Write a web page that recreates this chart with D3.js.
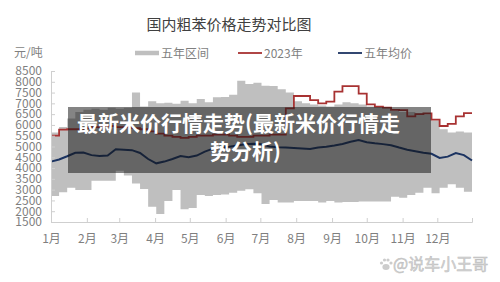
<!DOCTYPE html>
<html>
<head>
<meta charset="utf-8">
<script src="https://cdn.jsdelivr.net/npm/d3@7"></script>
<style>
  body { margin: 0; background: #fff; }
  text { font-family: "Noto Sans CJK SC", "Noto Sans", sans-serif; }
</style>
</head>
<body>
<div id="chart"></div>
<script>
var months = ["1月","2月","3月","4月","5月","6月","7月","8月","9月","10月","11月","12月"];
var monthStart = [0, 31, 59, 90, 120, 151, 181, 212, 243, 273, 304, 334, 364];
var yTicks = [1500, 2000, 2500, 3000, 3500, 4000, 4500, 5000, 5500, 6000, 6500, 7000, 7500, 8000, 8500];

// weekly values, week 0 .. week 52
var rangeHigh = [5650, 5900, 6300, 6600, 6700, 6750, 6700, 6800, 6750, 6800,
                 7500, 6850, 7100, 7000, 7030, 6980, 7120, 7000, 7200, 7050,
                 7280, 7300, 7400, 8050, 7900, 7950, 7820, 7800, 7650, 7500,
                 7100, 7000, 6950, 6900, 6850, 6950, 7050, 7000, 6950, 6850,
                 6850, 6800, 6650, 6600, 6600, 6550, 6500, 6200, 5800, 5650,
                 5700, 5650, 5650];
var rangeLow = [2700, 2880, 3090, 2980, 2980, 3410, 3410, 3410, 3880, 3650,
                3290, 3030, 2210, 1870, 2470, 2980, 2090, 2150, 2750, 2700,
                2750, 2780, 2860, 2950, 3020, 2830, 2330, 2520, 2400, 2400,
                2470, 2470, 2470, 2400, 2470, 2400, 2430, 2430, 2450, 2450,
                2450, 2450, 2670, 2620, 2750, 2860, 3090, 2830, 3090, 3250,
                3090, 2900, 2900];
var price2023 = [5500, 5780, 5800, 5800, 5850, 5900, 5950, 5950, 5900, 5900,
                 5850, 5800, 5700, 5600, 5500, 5450, 5400, 5450, 5500, 5500,
                 5550, 5550, 5500, 5450, 5450, 5500, 5500, 5550, 5550, 6770,
                 7340, 7340, 7150, 7000, 7080, 7540, 7800, 7800, 7450, 6950,
                 6850, 6800, 6700, 6690, 6400, 6500, 6540, 6250, 5950, 6050,
                 6400, 6550, 6550];
var avg5y = [4300, 4400, 4550, 4710, 4720, 4600, 4560, 4580, 4870, 4850,
             4830, 4700, 4420, 4220, 4300, 4420, 4560, 4500, 4580, 4760,
             4900, 4950, 4990, 5050, 5100, 5130, 5100, 5000, 4970, 4950,
             4930, 4910, 4880, 4950, 4990, 5050, 5120, 5220, 5300, 5200,
             5150, 5110, 5060, 4950, 4850, 4780, 4710, 4660, 4470, 4530,
             4700, 4600, 4350];

var width = 500,
    height = 282;

var svg = d3.select("#chart")
            .append("svg")
            .attr("width", width)
            .attr("height", height)

var x = d3.scaleLinear().domain([0, 364]).range([51, 472])
var y = d3.scaleLinear().domain([1500, 8500]).range([222, 71])

var weeks = avg5y.map(function(d, i) { return i * 7 })

// five year range
var area = d3.area()
    .curve(d3.curveStepAfter)
    .x(function(d, i) { return x(weeks[i]) })
    .y0(function(d, i) { return y(rangeLow[i]) })
    .y1(function(d) { return y(d) })

svg.append("path")
   .datum(rangeHigh)
   .attr("d", area)
   .attr("fill", "#bfbfbf")

var stepLine = d3.line()
    .curve(d3.curveStepAfter)
    .x(function(d, i) { return x(weeks[i]) })
    .y(function(d) { return y(d) })

var line = d3.line()
    .x(function(d, i) { return x(weeks[i]) })
    .y(function(d) { return y(d) })

svg.append("path")
   .datum(price2023)
   .attr("d", stepLine)
   .attr("fill", "none")
   .attr("stroke", "#a83232")
   .attr("stroke-width", 1.8)

svg.append("path")
   .datum(avg5y)
   .attr("d", line)
   .attr("fill", "none")
   .attr("stroke", "#1b3361")
   .attr("stroke-width", 2)

// axes
svg.append("g")
   .attr("transform", "translate(51,0)")
   .call(d3.axisLeft(y).tickValues(yTicks).tickSize(-4).tickPadding(9).tickFormat(d3.format("d")))

svg.append("g")
   .attr("transform", "translate(0,222)")
   .call(d3.axisBottom(x).tickValues(monthStart).tickSize(-4).tickPadding(12)
         .tickFormat(function(d, i) { return months[i] || "" }))

svg.selectAll(".domain, .tick line").attr("stroke", "#cfcfcf")
svg.selectAll(".tick text")
   .attr("fill", "#7f7f7f")
   .style("font-size", "12px")
   .style("font-family", "'Noto Sans CJK SC', sans-serif")

// title, unit and legend
svg.append("text")
   .attr("x", 229).attr("y", 30)
   .attr("text-anchor", "middle")
   .attr("fill", "#404040")
   .style("font-size", "15px")
   .text("国内粗苯价格走势对比图")

svg.append("text")
   .attr("x", 14).attr("y", 57)
   .attr("fill", "#7f7f7f")
   .style("font-size", "12px")
   .text("元/吨")

var legend = [
  {name: "五年区间", x: 135, color: "#bfbfbf", w: 4.5},
  {name: "2023年", x: 238, color: "#a83232", w: 1.8},
  {name: "五年均价", x: 338, color: "#1b3361", w: 1.8}
]

var lg = svg.selectAll(".lg")
   .data(legend)
   .enter().append("g")
   .attr("class", "lg")

lg.append("line")
  .attr("x1", function(d) { return d.x })
  .attr("x2", function(d) { return d.x + 24 })
  .attr("y1", 53).attr("y2", 53)
  .attr("stroke", function(d) { return d.color })
  .attr("stroke-width", function(d) { return d.w })

lg.append("text")
  .attr("x", function(d) { return d.x + 26 })
  .attr("y", 57.5)
  .attr("fill", "#7f7f7f")
  .style("font-size", "12px")
  .text(function(d) { return d.name })

// overlay caption
svg.append("rect")
   .attr("x", 68).attr("y", 107)
   .attr("width", 363).attr("height", 66)
   .attr("fill", "rgba(20,20,20,0.52)")

svg.append("text")
   .attr("x", 77).attr("y", 131)
   .attr("fill", "#fff")
   .style("font-size", "21px")
   .style("font-weight", "bold")
   .text("最新米价行情走势(最新米价行情走")

svg.append("text")
   .attr("x", 210).attr("y", 159)
   .attr("fill", "#fff")
   .style("font-size", "21px")
   .style("font-weight", "bold")
   .text("势分析)")

// watermark
var paw = svg.append("g").attr("fill", "#cccccc")
paw.append("ellipse").attr("cx", 386).attr("cy", 267).attr("rx", 3.6).attr("ry", 3)
paw.append("circle").attr("cx", 381.5).attr("cy", 263).attr("r", 1.6)
paw.append("circle").attr("cx", 384.5).attr("cy", 260).attr("r", 1.6)
paw.append("circle").attr("cx", 388).attr("cy", 260).attr("r", 1.6)
paw.append("circle").attr("cx", 391).attr("cy", 263).attr("r", 1.6)

svg.append("text")
   .attr("x", 393).attr("y", 270)
   .attr("fill", "#d4d4d4")
   .attr("stroke", "#bcbcbc")
   .attr("stroke-width", 0.5)
   .style("font-size", "16px")
   .text("@说车小王哥")
</script>
</body>
</html>
